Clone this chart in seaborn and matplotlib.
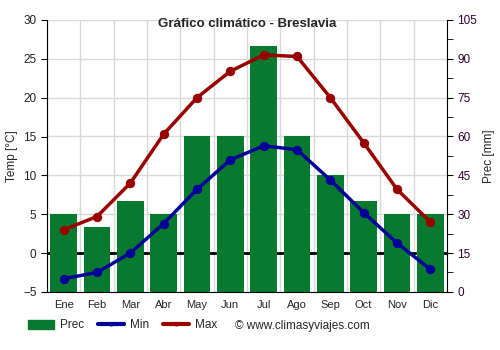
import matplotlib
matplotlib.use("Agg")
import matplotlib.pyplot as plt
import seaborn as sns
import numpy as np
import pandas as pd
from matplotlib.patches import Patch
from matplotlib.lines import Line2D

months = ["Ene", "Feb", "Mar", "Abr", "May", "Jun", "Jul", "Ago", "Sep", "Oct", "Nov", "Dic"]
prec = [30, 25, 35, 30, 60, 60, 95, 60, 45, 35, 30, 30]
tmin = [-3.3, -2.5, 0.0, 3.8, 8.2, 12.0, 13.8, 13.3, 9.4, 5.2, 1.3, -2.1]
tmax = [3.0, 4.7, 9.0, 15.3, 20.0, 23.4, 25.5, 25.3, 20.0, 14.2, 8.2, 4.0]

sns.set_style("white")
plt.rcParams['font.family'] = ['Liberation Sans', 'DejaVu Sans']

df = pd.DataFrame({"month": months, "prec": prec, "tmin": tmin, "tmax": tmax, "idx": range(12)})

fig = plt.figure(figsize=(5, 3.5), dpi=100)
ax2 = fig.add_axes([0.094, 0.166, 0.8, 0.777])  # precipitation (right), drawn behind
ax1 = ax2.twinx()
ax1.yaxis.tick_left()
ax1.yaxis.set_label_position("left")
ax2.yaxis.tick_right()
ax2.yaxis.set_label_position("right")
ax1.set_zorder(ax2.get_zorder() + 1)
ax1.patch.set_visible(False)

green = "#077a30"
blue = "#000099"
red = "#990000"

# grid on bottom axes
ax2.set_ylim(0, 105)
ax2.set_xlim(-0.5, 11.5)
for v in np.arange(0, 106, 15):
    ax2.axhline(v, color="#d9d9d9", lw=1, zorder=0)
for b in np.arange(-0.5, 12, 1):
    ax2.axvline(b, color="#d9d9d9", lw=1, zorder=0)
ax2.axhline(15, color="black", lw=2, zorder=0.5)

sns.barplot(data=df, x="month", y="prec", ax=ax2, color=green, saturation=1, width=0.8, zorder=2,
            linewidth=0, edgecolor="none")
ax2.set_xlim(-0.5, 11.5)
ax2.set_ylim(0, 105)

sns.lineplot(data=df, x="idx", y="tmin", ax=ax1, color=blue, lw=2.5, marker="o", markersize=6,
             markeredgecolor=blue, zorder=3)
sns.lineplot(data=df, x="idx", y="tmax", ax=ax1, color=red, lw=2.5, marker="o", markersize=6,
             markeredgecolor=red, zorder=3)
ax1.set_ylim(-5, 30)
ax1.set_xlim(-0.5, 11.5)
ax1.set_yticks(np.arange(-5, 31, 5))
ax2.set_yticks(np.arange(0, 106, 15))
ax2.set_yticks(np.arange(0, 106, 7.5), minor=True)

ax2.set_xticks(range(12))
ax2.set_xticklabels(months)
ax2.set_xticks(np.arange(-0.5, 12, 1), minor=True)
ax2.tick_params(axis="x", which="major", length=0, labelsize=8, pad=6)
ax2.tick_params(axis="x", which="minor", length=4, color="black")
ax2.tick_params(axis="y", which="both", length=4, color="black", labelsize=8.5, labelcolor="#330033", direction="out")
ax1.tick_params(axis="y", length=4, color="black", labelsize=8.5, labelcolor="#222222", direction="out")
ax1.tick_params(axis="x", bottom=False, labelbottom=False)

ax1.set_ylabel("Temp [°C]", fontsize=8.5)
ax2.set_ylabel("Prec [mm]", fontsize=8.5)
ax1.set_xlabel("")
ax2.set_xlabel("")

for ax in (ax1, ax2):
    for s in ax.spines.values():
        s.set_visible(False)
ax1.spines["left"].set_visible(True)
ax1.spines["left"].set_color("black")
ax1.spines["right"].set_visible(True)
ax1.spines["right"].set_color("black")
ax2.spines["bottom"].set_visible(True)
ax2.spines["bottom"].set_color("black")

ax1.set_title("Gráfico climático - Breslavia", fontsize=9.5, fontweight="bold", pad=-2, y=1.0)
ax1.title.set_position((0.5, 0.985))

handles = [Patch(color=green, label="Prec"),
           Line2D([0], [0], color=blue, lw=3, marker="o", markersize=2, label="Min"),
           Line2D([0], [0], color=red, lw=3, marker="o", markersize=2, label="Max")]
fig.legend(handles=handles, loc="center left", bbox_to_anchor=(0.035, 0.07), ncol=3, frameon=False,
           fontsize=8.5, handlelength=2.2, handleheight=0.9, columnspacing=1.2, handletextpad=0.5)
fig.text(0.47, 0.07, "© www.climasyviajes.com", fontsize=8.5, va="center", ha="left")

fig.savefig("out.png", dpi=100)
